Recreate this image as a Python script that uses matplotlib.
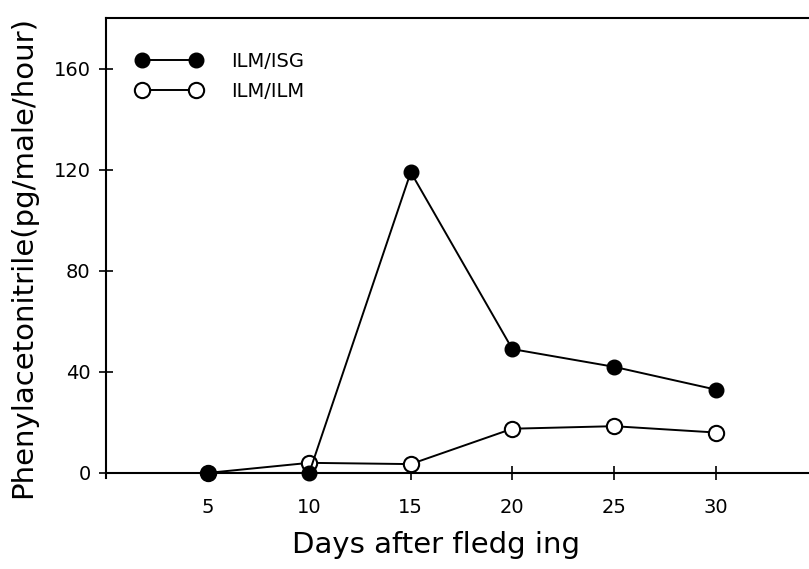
import numpy as np
import matplotlib.pyplot as plt

# data
days = [5, 10, 15, 20, 25, 30]
ilm_isg = [0, 0, 119, 49, 42, 33]
ilm_ilm = [0, 4, 3.5, 17.5, 18.5, 16]

y_ticks = [0, 40, 80, 120, 160]
x_ticks = [5, 10, 15, 20, 25, 30]

fig = plt.figure(figsize=(8.09, 5.69), dpi=100)
ax = fig.add_axes([106 / 809, 91 / 569, 1 - 106 / 809, (478 - 18) / 569])

ax.plot(days, ilm_ilm, color="black", lw=1.4, marker="o", ms=11,
        mfc="white", mec="black", mew=1.5, label="ILM/ILM", clip_on=False, zorder=3)
ax.plot(days, ilm_isg, color="black", lw=1.4, marker="o", ms=10.5,
        mfc="black", mec="black", label="ILM/ISG", clip_on=False, zorder=4)

ax.set_xlim(0, 34.6)
ax.set_ylim(-2, 180)

ax.spines["right"].set_visible(False)
ax.spines["bottom"].set_position(("data", 0))
for s in ax.spines.values():
    s.set_linewidth(1.5)

ax.set_xticks(x_ticks)
ax.set_yticks(y_ticks)
ax.tick_params(axis="both", direction="inout", length=10, width=1.2, labelsize=14)
ax.tick_params(axis="x", pad=13)
ax.tick_params(axis="y", pad=6)

ax.set_xlabel("Days after fledg ing", fontsize=21)
ax.xaxis.set_label_coords(0.469, -0.115)
ax.set_ylabel("Phenylacetonitrile(pg/male/hour)", fontsize=21)
ax.yaxis.set_label_coords(-0.098, 0.48)

handles, labels = ax.get_legend_handles_labels()
ax.legend(handles[::-1], labels[::-1], loc="upper left", bbox_to_anchor=(0.018, 0.965),
          frameon=False, numpoints=2, handlelength=3.4, fontsize=14,
          labelspacing=0.6, handletextpad=1.5)

plt.savefig("out.png", dpi=100)
